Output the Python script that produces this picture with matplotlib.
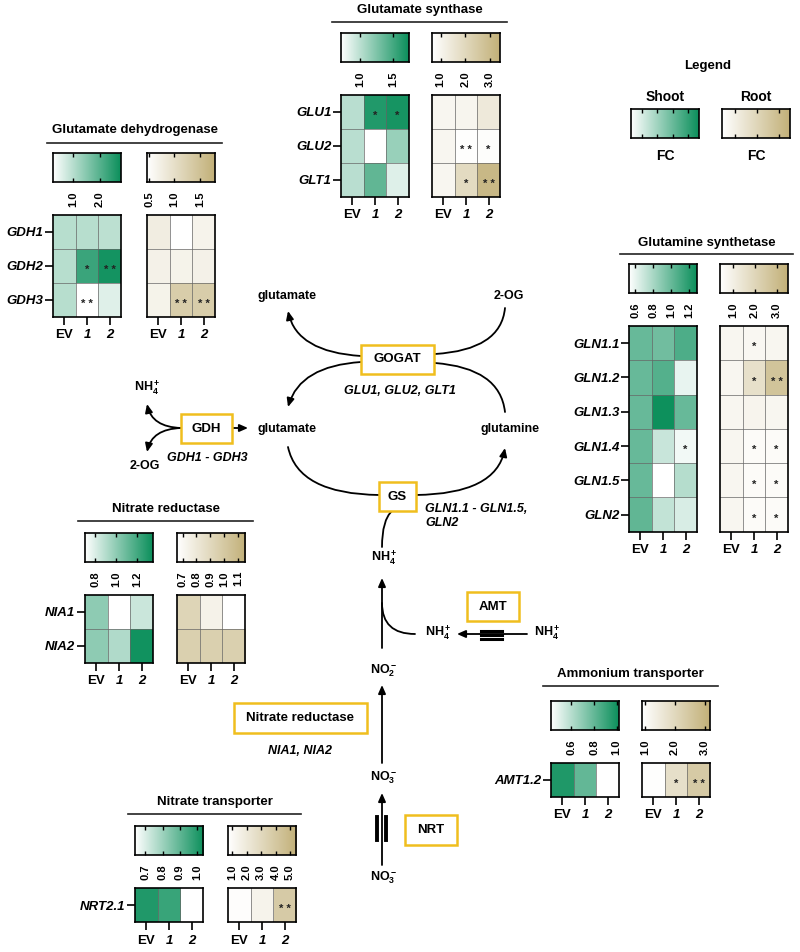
import numpy as np
import matplotlib
matplotlib.use("Agg")
import matplotlib.pyplot as plt
from matplotlib.colors import LinearSegmentedColormap
from matplotlib.patches import Rectangle, FancyArrowPatch
from matplotlib.path import Path

plt.rcParams['font.family'] = ['Liberation Sans', 'DejaVu Sans']
plt.rcParams['font.weight'] = 'bold'
plt.rcParams['mathtext.fontset'] = 'custom'
plt.rcParams['mathtext.rm'] = 'Liberation Sans:bold'
plt.rcParams['mathtext.it'] = 'Liberation Sans:bold:italic'
plt.rcParams['mathtext.bf'] = 'Liberation Sans:bold'
plt.rcParams['mathtext.default'] = 'rm'

# ---- data (fold change, shoot / root) ----
cols = ['EV', '1', '2']

gogat_genes = ['GLU1', 'GLU2', 'GLT1']
gogat_shoot = [[1.00, 1.65, 1.70], [1.00, 0.70, 1.14], [1.00, 1.38, 0.84]]
gogat_root = [[0.95, 1.00, 1.40], [0.95, 0.68, 0.72], [0.95, 1.90, 3.10]]
gogat_shoot_sig = [['', '*', '*'], ['', '', ''], ['', '', '']]
gogat_root_sig = [['', '', ''], ['', '**', '*'], ['', '*', '**']]
gogat_shoot_ticks = [1.0, 1.5]
gogat_root_ticks = [1.0, 2.0, 3.0]
gogat_shoot_lim = (0.7, 1.75)
gogat_root_lim = (0.65, 3.4)

gdh_genes = ['GDH1', 'GDH2', 'GDH3']
gdh_shoot = [[1.00, 1.00, 0.95], [1.00, 2.30, 2.70], [1.00, 0.25, 0.58]]
gdh_root = [[0.75, 0.46, 0.65], [0.68, 0.66, 0.68], [0.66, 1.30, 1.30]]
gdh_shoot_sig = [['', '', ''], ['', '*', '**'], ['', '**', '']]
gdh_root_sig = [['', '', ''], ['', '', ''], ['', '**', '**']]
gdh_shoot_ticks = [1.0, 2.0]
gdh_root_ticks = [0.5, 1.0, 1.5]
gdh_shoot_lim = (0.25, 2.8)
gdh_root_lim = (0.46, 1.8)

gln_genes = ['GLN1.1', 'GLN1.2', 'GLN1.3', 'GLN1.4', 'GLN1.5', 'GLN2']
gln_shoot = [[1.00, 0.97, 1.08], [1.00, 1.06, 0.60], [1.00, 1.28, 1.00],
             [1.00, 0.70, 0.57], [1.00, 0.53, 0.76], [1.02, 0.72, 0.65]]
gln_root = [[0.75, 0.70, 0.75], [0.75, 1.60, 2.70], [0.75, 0.80, 0.75],
            [0.75, 0.55, 0.55], [0.75, 0.55, 0.55], [0.75, 0.55, 0.55]]
gln_shoot_sig = [['', '', ''], ['', '', ''], ['', '', ''],
                 ['', '', '*'], ['', '', ''], ['', '', '']]
gln_root_sig = [['', '*', ''], ['', '*', '**'], ['', '', ''],
                ['', '*', '*'], ['', '*', '*'], ['', '*', '*']]
gln_shoot_ticks = [0.6, 0.8, 1.0, 1.2]
gln_root_ticks = [1.0, 2.0, 3.0]
gln_shoot_lim = (0.53, 1.29)
gln_root_lim = (0.4, 3.5)

nr_genes = ['NIA1', 'NIA2']
nr_shoot = [[1.00, 0.70, 0.84], [1.00, 0.91, 1.33]]
nr_root = [[0.92, 0.74, 0.66], [0.95, 0.95, 0.95]]
nr_shoot_sig = [['', '', ''], ['', '', '']]
nr_root_sig = [['', '', ''], ['', '', '']]
nr_shoot_ticks = [0.8, 1.0, 1.2]
nr_root_ticks = [0.7, 0.8, 0.9, 1.0, 1.1]
nr_shoot_lim = (0.7, 1.35)
nr_root_lim = (0.66, 1.15)

amt_genes = ['AMT1.2']
amt_shoot = [[0.97, 0.80, 0.42]]
amt_root = [[0.92, 1.80, 2.40]]
amt_shoot_sig = [['', '', '']]
amt_root_sig = [['', '*', '**']]
amt_shoot_ticks = [0.6, 0.8, 1.0]
amt_root_ticks = [1.0, 2.0, 3.0]
amt_shoot_lim = (0.42, 1.02)
amt_root_lim = (0.9, 3.17)

nrt_genes = ['NRT2.1']
nrt_shoot = [[1.00, 0.96, 0.64]]
nrt_root = [[0.80, 1.40, 3.80]]
nrt_shoot_sig = [['', '', '']]
nrt_root_sig = [['', '', '**']]
nrt_shoot_ticks = [0.7, 0.8, 0.9, 1.0]
nrt_root_ticks = [1.0, 2.0, 3.0, 4.0, 5.0]
nrt_shoot_lim = (0.64, 1.035)
nrt_root_lim = (0.72, 5.41)

shoot_cmap = LinearSegmentedColormap.from_list('shoot', ['#ffffff', '#0b8f5b'])
root_cmap = LinearSegmentedColormap.from_list('root', ['#ffffff', '#c2b078'])
box_color = '#f0be1e'

W, H = 800, 952
fig = plt.figure(figsize=(8, 9.52), dpi=100)
ax = fig.add_axes([0, 0, 1, 1])
ax.set_xlim(0, W)
ax.set_ylim(H, 0)
ax.axis('off')


def px_ax(x0, y0, x1, y1):
    return fig.add_axes([x0 / W, 1 - y1 / H, (x1 - x0) / W, (y1 - y0) / H])


def colorbar(x0, y0, cmap, lim, ticks, labels=True, w=68, h=29):
    cax = px_ax(x0, y0, x0 + w, y0 + h)
    vmin, vmax = lim
    grad = np.linspace(vmin, vmax, 256)[None, :]
    cax.imshow(grad, cmap=cmap, vmin=vmin, vmax=vmax, aspect='auto',
               extent=[vmin, vmax, 0, 1])
    cax.set_xlim(vmin, vmax)
    cax.set_yticks([])
    cax.set_xticks(ticks)
    cax.tick_params(axis='x', direction='in', top=True, bottom=True,
                    length=3, width=1, pad=6.5, labelsize=8)
    if labels:
        cax.set_xticklabels([f'{t:.1f}' for t in ticks], rotation=90,
                            fontweight='bold')
    else:
        cax.set_xticklabels([])
    for s in cax.spines.values():
        s.set_linewidth(1.2)
    return cax


def heatmap(x0, y0, vals, cmap, lim, sig, genes=None, w=68, rh=34):
    nrow = len(vals)
    hax = px_ax(x0, y0, x0 + w, y0 + rh * nrow)
    hax.imshow(np.array(vals), cmap=cmap, vmin=lim[0], vmax=lim[1],
               aspect='auto')
    for i in range(1, nrow):
        hax.axhline(i - 0.5, color='#666666', lw=0.5)
    for j in (0.5, 1.5):
        hax.axvline(j, color='#666666', lw=0.5)
    # significance stars, spaced like the original
    for i, row in enumerate(sig):
        for j, s in enumerate(row):
            if s:
                hax.text(j, i + 0.12, ' '.join(s), ha='center', va='center',
                         fontsize=8, color='#222222')
    hax.set_xticks(range(3))
    hax.set_xticklabels(cols, fontsize=9.5, fontweight='bold')
    for lab in hax.get_xticklabels()[1:]:
        lab.set_fontstyle('italic')
    hax.tick_params(axis='x', length=6, width=1.2, pad=3)
    if genes:
        hax.set_yticks(range(nrow))
        hax.set_yticklabels(genes, fontsize=9.5, fontweight='bold',
                            fontstyle='italic')
        hax.tick_params(axis='y', length=6, width=1.2, pad=1)
    else:
        hax.set_yticks([])
    for s in hax.spines.values():
        s.set_linewidth(1.2)
    return hax


def panel(title, line, title_y, sx, rx, cb_y, genes, shoot, root,
          shoot_sig, root_sig, slim, rlim, sticks, rticks, rh=34):
    ax.plot(line[:2], [line[2]] * 2, color='#222222', lw=1.2)
    ax.text((line[0] + line[1]) / 2, title_y, title, ha='center',
            va='center', fontsize=9.5, fontweight='bold')
    colorbar(sx, cb_y, shoot_cmap, slim, sticks)
    colorbar(rx, cb_y, root_cmap, rlim, rticks)
    heatmap(sx, cb_y + 62, shoot, shoot_cmap, slim, shoot_sig, genes, rh=rh)
    heatmap(rx, cb_y + 62, root, root_cmap, rlim, root_sig, rh=rh)


panel('Glutamate synthase', (332, 507, 22), 10, 341, 432, 33, gogat_genes,
      gogat_shoot, gogat_root, gogat_shoot_sig, gogat_root_sig,
      gogat_shoot_lim, gogat_root_lim, gogat_shoot_ticks, gogat_root_ticks)
panel('Glutamate dehydrogenase', (47, 222, 143), 130, 53, 147, 153, gdh_genes,
      gdh_shoot, gdh_root, gdh_shoot_sig, gdh_root_sig,
      gdh_shoot_lim, gdh_root_lim, gdh_shoot_ticks, gdh_root_ticks)
panel('Glutamine synthetase', (620, 793, 254), 243, 629, 720, 264, gln_genes,
      gln_shoot, gln_root, gln_shoot_sig, gln_root_sig,
      gln_shoot_lim, gln_root_lim, gln_shoot_ticks, gln_root_ticks, rh=34.3)
panel('Nitrate reductase', (78, 253, 521), 509, 85, 177, 533, nr_genes,
      nr_shoot, nr_root, nr_shoot_sig, nr_root_sig,
      nr_shoot_lim, nr_root_lim, nr_shoot_ticks, nr_root_ticks)
panel('Ammonium transporter', (543, 718, 686), 674, 551, 642, 701, amt_genes,
      amt_shoot, amt_root, amt_shoot_sig, amt_root_sig,
      amt_shoot_lim, amt_root_lim, amt_shoot_ticks, amt_root_ticks)
panel('Nitrate transporter', (128, 301, 814), 802, 135, 228, 826, nrt_genes,
      nrt_shoot, nrt_root, nrt_shoot_sig, nrt_root_sig,
      nrt_shoot_lim, nrt_root_lim, nrt_shoot_ticks, nrt_root_ticks)

# ---- legend ----
ax.text(708, 66, 'Legend', ha='center', va='center', fontsize=9.5)
ax.text(665, 97, 'Shoot', ha='center', va='center', fontsize=10)
ax.text(756, 97, 'Root', ha='center', va='center', fontsize=10)
ax.text(665, 156, 'FC', ha='center', va='center', fontsize=10)
ax.text(756, 156, 'FC', ha='center', va='center', fontsize=10)
colorbar(631, 109, shoot_cmap, (0, 1), [0.16, 0.38, 0.62, 0.84], labels=False)
colorbar(722, 109, root_cmap, (0, 1), [0.19, 0.51, 0.84], labels=False)

# ---- pathway ----
def curve(p0, c, p1, arrow=True):
    path = Path([p0, c, p1], [Path.MOVETO, Path.CURVE3, Path.CURVE3])
    style = '-|>,head_length=5,head_width=2.2' if arrow else '-'
    ax.add_patch(FancyArrowPatch(path=path, arrowstyle=style, lw=1.3,
                                 color='black', mutation_scale=1))


def arrow(p0, p1):
    ax.add_patch(FancyArrowPatch(p0, p1, arrowstyle='-|>,head_length=5,head_width=2.2',
                                 lw=1.3, color='black', mutation_scale=1,
                                 shrinkA=0, shrinkB=0))


def box(x0, y0, x1, y1, label):
    ax.add_patch(Rectangle((x0, y0), x1 - x0, y1 - y0, fill=True,
                           facecolor='white', edgecolor=box_color, lw=1.8,
                           zorder=3))
    ax.text((x0 + x1) / 2, (y0 + y1) / 2, label, ha='center', va='center',
            fontsize=9.5, zorder=4)


def label(x, y, s, **kw):
    ax.text(x, y, s, ha=kw.pop('ha', 'center'), va='center',
            fontsize=kw.pop('fontsize', 9), **kw)


label(287, 296, 'glutamate')
label(509, 296, '2-OG')
label(287, 429, 'glutamate')
label(510, 429, 'glutamine')
label(147, 388, 'NH$_4^+$')
label(145, 466, '2-OG')
label(384, 558, 'NH$_4^+$')
label(438, 633, 'NH$_4^+$')
label(547, 633, 'NH$_4^+$')
label(384, 671, 'NO$_2^-$')
label(384, 778, 'NO$_3^-$')
label(384, 878, 'NO$_3^-$')

label(400, 391, 'GLU1, GLU2, GLT1', fontstyle='italic')
label(207, 458, 'GDH1 - GDH3', fontstyle='italic')
label(425, 509, 'GLN1.1 - GLN1.5,', ha='left', fontstyle='italic')
label(425, 523, 'GLN2', ha='left', fontstyle='italic')
label(300, 751, 'NIA1, NIA2', fontstyle='italic')

curve((361, 356), (297, 352), (288, 311))
curve((505, 308), (501, 350), (435, 354), arrow=False)
curve((361, 362), (300, 366), (288, 407))
curve((505, 412), (500, 368), (435, 363), arrow=False)
curve((288, 447), (298, 494), (379, 495), arrow=False)
curve((416, 495), (496, 494), (505, 448))
curve((382, 547), (382, 520), (392, 511), arrow=False)
curve((415, 634), (382, 634), (382, 603), arrow=False)
curve((181, 428), (152, 427), (147, 404))
curve((181, 428), (152, 429), (147, 452))
arrow((382, 648), (382, 578))
arrow((382, 763), (382, 685))
arrow((382, 865), (382, 793))
arrow((527, 634), (457, 634))
arrow((233, 428), (248, 428))

for yb in (631, 635, 639):
    ax.plot([481, 502], [yb, yb], color='black', lw=2.2)
for xb in (377, 386):
    ax.plot([xb, xb], [817, 840], color='black', lw=2.8)

box(361, 345, 434, 374, 'GOGAT')
box(379, 482, 416, 511, 'GS')
box(181, 414, 232, 443, 'GDH')
box(467, 592, 519, 621, 'AMT')
box(234, 703, 367, 733, 'Nitrate reductase')
box(405, 815, 457, 845, 'NRT')

fig.savefig('out.png', dpi=100, facecolor='white')
